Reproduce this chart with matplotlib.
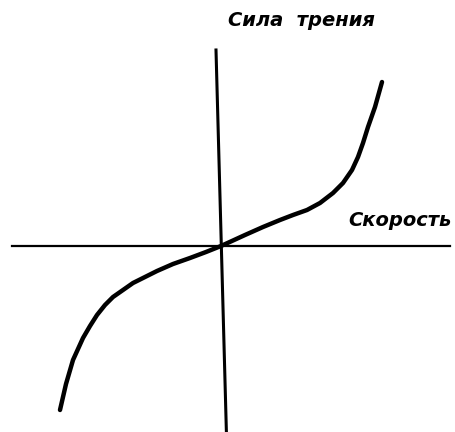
"""Friction force vs velocity sketch (scanned textbook diagram)."""
import matplotlib.pyplot as plt

# curve, arbitrary units (origin at axes crossing)
velocity = [-161, -155, -148, -138, -131, -124, -116, -108, -98, -88, -76, -64,
            -48, -31, -15, 0,
            24, 42, 59, 72, 86, 99, 112, 122, 131, 137, 142, 147, 154, 161]
force = [-164, -138, -114, -92, -80, -69, -59, -51, -44, -37, -31, -25,
         -18, -12, -6, 0,
         11, 19, 26, 31, 36, 43, 53, 63, 76, 89, 103, 119, 139, 164]

# axis line ends
h_axis_x = [-209, 229]
h_axis_y = [0, 0]
v_axis_x = [-5, 5.5]
v_axis_y = [196, -190]

fig = plt.figure(figsize=(4.55, 4.32), dpi=100)
ax = fig.add_axes([0, 0, 1, 1])
ax.set_xlim(-221, 234)
ax.set_ylim(-186, 246)
ax.axis("off")

ax.plot(h_axis_x, h_axis_y, color="black", linewidth=1.6)
ax.plot(v_axis_x, v_axis_y, color="black", linewidth=2.2)
ax.plot(velocity, force, color="black", linewidth=3.2,
        solid_capstyle="round", solid_joinstyle="round")

ax.text(80, 226, "Сила  трения", ha="center", va="center",
        fontsize=14, fontstyle="italic", fontweight="bold")
ax.text(179, 26, "Скорость", ha="center", va="center",
        fontsize=14, fontstyle="italic", fontweight="bold")

plt.savefig("out.png", dpi=100)
